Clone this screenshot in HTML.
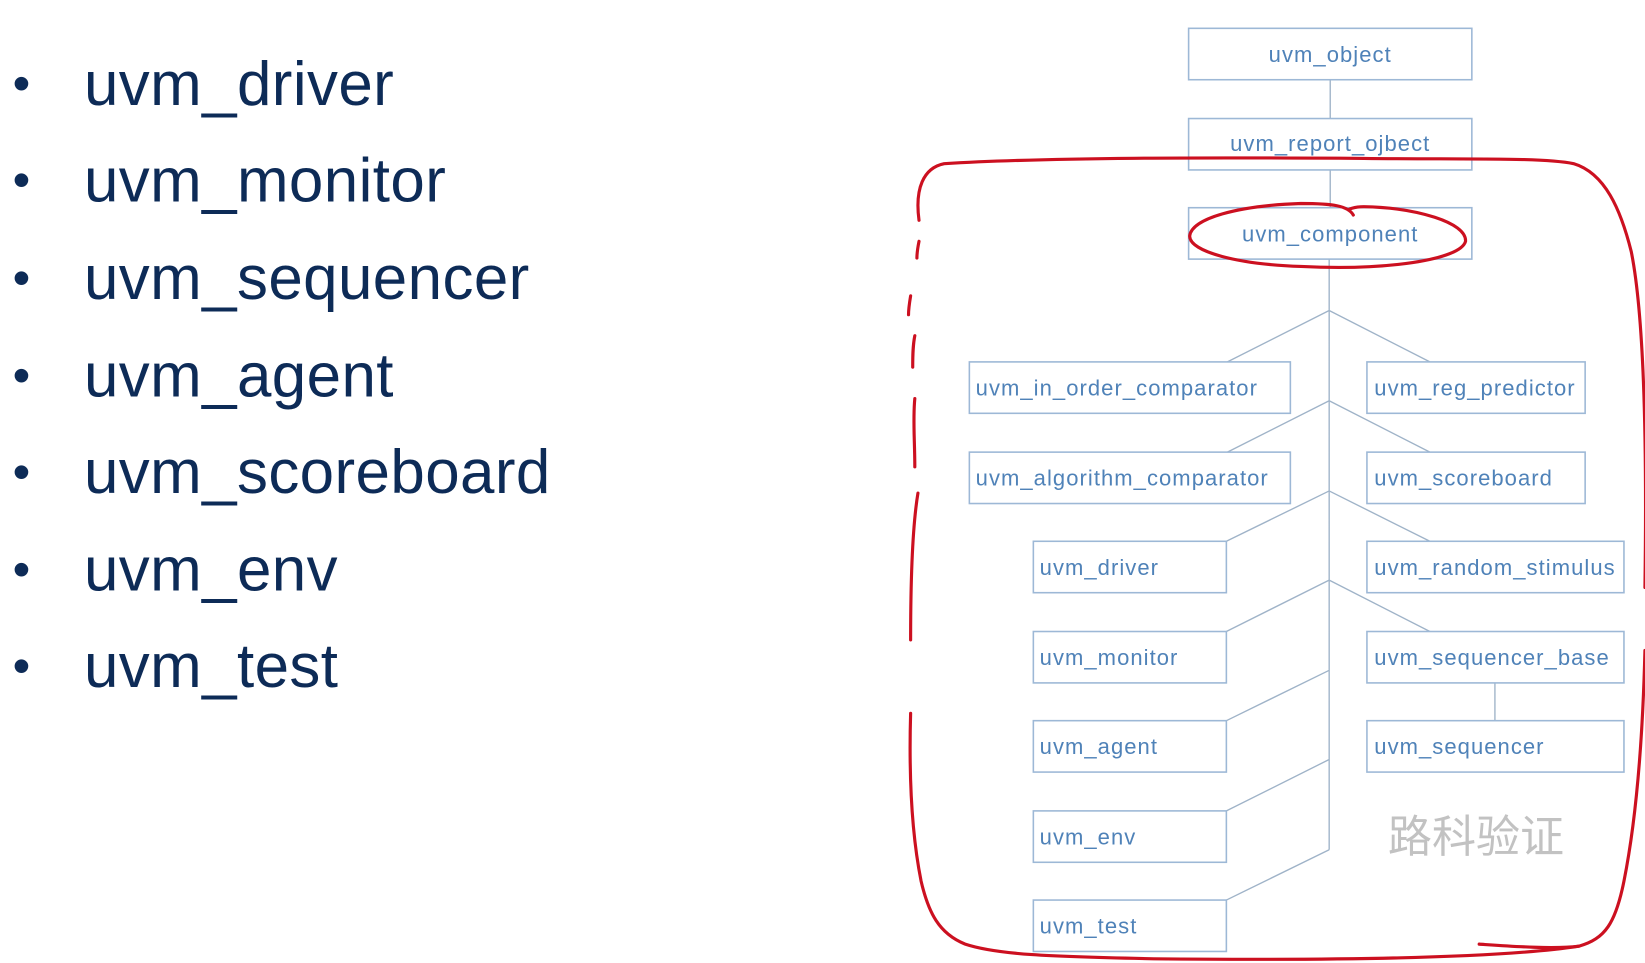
<!DOCTYPE html>
<html><head><meta charset="utf-8"><style>
html,body{margin:0;padding:0;background:#fff;}
svg{display:block;}
.b{fill:#fff;stroke:#9db8d6;stroke-width:1.5;}
.l{stroke:#9fb3c8;stroke-width:1.3;fill:none;}
.t{font-family:"Liberation Sans",sans-serif;font-size:21px;fill:#4f82b8;letter-spacing:1px;}
.big{font-family:"Liberation Sans",sans-serif;font-size:59px;fill:#0d2b57;letter-spacing:0.4px;}
.bul{font-family:"Liberation Sans",sans-serif;font-size:48px;fill:#0d2b57;}
</style></head><body>
<svg width="1645" height="963" viewBox="0 0 1568 918" xmlns="http://www.w3.org/2000/svg">
<g class="bul">
<text x="12" y="96">•</text><text x="12" y="188">•</text><text x="12" y="281">•</text><text x="12" y="374">•</text><text x="12" y="466">•</text><text x="12" y="559">•</text><text x="12" y="651">•</text>
</g>
<g class="big">
<text x="80" y="100">uvm_driver</text>
<text x="80" y="192">uvm_monitor</text>
<text x="80" y="285">uvm_sequencer</text>
<text x="80" y="378">uvm_agent</text>
<text x="80" y="470">uvm_scoreboard</text>
<text x="80" y="563">uvm_env</text>
<text x="80" y="655">uvm_test</text>
</g>
<path class="l" d="M1268 76V113 M1268 162V198 M1267 247V810
M1267 296L1170 345 M1267 296L1363 345
M1267 382L1170 431 M1267 382L1363 431
M1267 468L1169 516 M1267 468L1363 516
M1267 553L1169 602 M1267 553L1363 602
M1267 639L1169 687 M1267 724L1169 773 M1267 810L1169 858
M1425 651V687"/>
<rect class="b" x="1133" y="27" width="270" height="49"/>
<rect class="b" x="1133" y="113" width="270" height="49"/>
<rect class="b" x="1133" y="198" width="270" height="49"/>
<rect class="b" x="924" y="345" width="306" height="49"/>
<rect class="b" x="1303" y="345" width="208" height="49"/>
<rect class="b" x="924" y="431" width="306" height="49"/>
<rect class="b" x="1303" y="431" width="208" height="49"/>
<rect class="b" x="985" y="516" width="184" height="49"/>
<rect class="b" x="1303" y="516" width="245" height="49"/>
<rect class="b" x="985" y="602" width="184" height="49"/>
<rect class="b" x="1303" y="602" width="245" height="49"/>
<rect class="b" x="985" y="687" width="184" height="49"/>
<rect class="b" x="1303" y="687" width="245" height="49"/>
<rect class="b" x="985" y="773" width="184" height="49"/>
<rect class="b" x="985" y="858" width="184" height="49"/>
<g class="t">
<text x="1268" y="59" text-anchor="middle">uvm_object</text>
<text x="1268" y="144" text-anchor="middle">uvm_report_ojbect</text>
<text x="1268" y="230" text-anchor="middle">uvm_component</text>
<text x="930" y="377">uvm_in_order_comparator</text>
<text x="1310" y="377">uvm_reg_predictor</text>
<text x="930" y="463">uvm_algorithm_comparator</text>
<text x="1310" y="463">uvm_scoreboard</text>
<text x="991" y="548">uvm_driver</text>
<text x="1310" y="548">uvm_random_stimulus</text>
<text x="991" y="634">uvm_monitor</text>
<text x="1310" y="634">uvm_sequencer_base</text>
<text x="991" y="719">uvm_agent</text>
<text x="1310" y="719">uvm_sequencer</text>
<text x="991" y="805">uvm_env</text>
<text x="991" y="890">uvm_test</text>
</g>
<text x="1323" y="812" font-family="'Liberation Sans','Noto Sans CJK SC',sans-serif" font-size="42" fill="#c2c2c2">路科验证</text>
<g fill="none" stroke="#cc1020" stroke-width="3" stroke-linecap="round">
<path d="M876 210C872 180 880 160 900 156C1000 150 1150 150 1300 151C1400 152 1470 150 1500 156C1530 165 1545 200 1555 240C1567 300 1570 420 1568 560"/>
<path d="M1568 620C1566 700 1560 780 1548 840C1540 880 1530 895 1505 902C1480 905 1440 902 1410 900"/>
<path d="M1505 902C1440 912 1300 916 1100 914C1000 912 950 910 920 900C895 890 885 870 878 840C870 800 866 750 868 680"/>
<path d="M868 610C868 550 870 500 875 470"/>
<path d="M872 445C872 420 870 400 872 380"/>
<path d="M870 350C870 340 870 330 872 320"/>
<path d="M866 300C866 295 867 288 868 282"/>
<path d="M874 246C874 240 875 235 876 230"/>
<path d="M1290 205C1285 196 1270 194 1240 194C1180 196 1136 208 1134 225C1134 240 1180 252 1240 254C1320 258 1392 248 1397 230C1398 212 1350 198 1300 197C1290 197 1285 200 1285 200"/>
</g>
</svg>
</body></html>
